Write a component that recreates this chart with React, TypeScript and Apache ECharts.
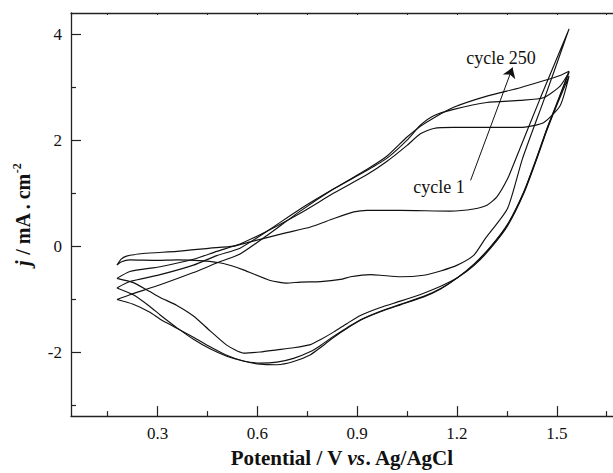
import React, { useEffect, useRef } from "react";
import * as echarts from "echarts";

const xMajorTicks = [0.3, 0.6, 0.9, 1.2, 1.5];
const xMinorTicks = [0.15, 0.45, 0.75, 1.05, 1.35, 1.65];
const xTopTicks = [0.15, 0.3, 0.45, 0.6, 0.75, 0.9, 1.05, 1.2, 1.35, 1.5, 1.65];
const yMajorTicks = [-2, 0, 2, 4];
const yMinorTicks = [-3, -1, 1, 3];

// cycle 1 (full loop: anodic then cathodic)
const cycle1Potential = [
  0.178, 0.19, 0.207, 0.257, 0.358, 0.458, 0.528, 0.579, 0.679, 0.76, 0.83, 0.89, 0.93, 1.03, 1.18, 1.25,
  1.29, 1.32, 1.352, 1.377, 1.449, 1.537, 1.462, 1.397, 1.352, 1.285, 1.251, 1.201, 1.151, 1.1, 1.03, 0.97,
  0.94, 0.88, 0.85, 0.79, 0.729, 0.689, 0.639, 0.558, 0.498, 0.438, 0.358, 0.298, 0.217, 0.19, 0.178,
];
const cycle1Current = [
  -0.36, -0.25, -0.19, -0.14, -0.1, -0.04, 0.0, 0.08, 0.24, 0.36, 0.52, 0.645, 0.675, 0.675, 0.66, 0.7,
  0.77, 0.93, 1.27, 1.65, 2.77, 4.1, 2.77, 1.65, 0.71, 0.14, -0.17, -0.36, -0.47, -0.55, -0.58, -0.55,
  -0.54, -0.58, -0.63, -0.67, -0.68, -0.7, -0.65, -0.45, -0.33, -0.28, -0.26, -0.27, -0.26, -0.3, -0.36,
];

// later cycles, anodic sweep
const anodicPotential = [
  0.178, 0.217, 0.308, 0.408, 0.478, 0.548, 0.629, 0.729, 0.83, 0.93, 0.99, 1.05, 1.09, 1.13, 1.19, 1.29,
  1.39, 1.46, 1.51, 1.537,
];
const cycleBAnodic = [
  -0.61, -0.48, -0.39, -0.25, -0.1, 0.04, 0.28, 0.62, 1.0, 1.35, 1.6, 1.9, 2.12, 2.22, 2.24, 2.24, 2.24, 2.33,
  2.65, 3.21,
];
const cycleCAnodic = [
  -0.79, -0.67, -0.54, -0.36, -0.18, -0.04, 0.28, 0.7, 1.08, 1.43, 1.66, 2.0, 2.28, 2.46, 2.58, 2.71, 2.75, 2.8,
  3.02, 3.28,
];
const cycleDAnodic = [
  -1.01, -0.92, -0.73, -0.5, -0.32, -0.15, 0.2, 0.66, 1.08, 1.45, 1.7, 2.06, 2.26, 2.42, 2.62, 2.83, 2.99, 3.12,
  3.22, 3.3,
];

// later cycles, cathodic sweep
const cathodicPotential = [
  1.5, 1.47, 1.442, 1.402, 1.352, 1.3, 1.251, 1.201, 1.151, 1.1, 1.03, 0.97, 0.91, 0.87, 0.83, 0.789, 0.76,
  0.709, 0.659, 0.609, 0.558, 0.508, 0.458, 0.408, 0.358, 0.308, 0.277, 0.227, 0.178,
];
const cycleBCathodic = [
  2.66, 2.18, 1.68, 1.01, 0.38, -0.05, -0.37, -0.6, -0.76, -0.89, -1.04, -1.16, -1.31, -1.46, -1.62, -1.77,
  -1.86, -1.92, -1.96, -2.0, -2.02, -1.87, -1.6, -1.32, -1.12, -0.97, -0.86, -0.69, -0.61,
];
const cycleCCathodic = [
  2.68, 2.2, 1.7, 1.03, 0.4, -0.03, -0.35, -0.6, -0.8, -0.95, -1.1, -1.23, -1.39, -1.54, -1.7, -1.88, -1.99,
  -2.12, -2.19, -2.21, -2.17, -2.08, -1.94, -1.76, -1.54, -1.3, -1.14, -0.92, -0.79,
];
const cycleDCathodic = [
  2.69, 2.21, 1.71, 1.04, 0.41, -0.02, -0.34, -0.6, -0.81, -0.96, -1.11, -1.24, -1.4, -1.55, -1.72, -1.92,
  -2.05, -2.18, -2.24, -2.23, -2.17, -2.06, -1.9, -1.72, -1.55, -1.38, -1.25, -1.1, -1.01,
];

const arrowStart = [1.241, 1.24];
const arrowEnd = [1.367, 3.37];
const labelFirst = "cycle 1";
const labelLast = "cycle 250";

const zip = (xs: number[], ys: number[]) => xs.map((x, i) => [x, ys[i]]);

const FONT = "Liberation Serif";
const INK = "#111";

export default function App() {
  const ref = useRef<HTMLDivElement>(null);
  useEffect(() => {
    if (!ref.current) return;
    const chart = echarts.init(ref.current, null, { renderer: "svg" });
    const xMin = 0.04;
    const xMax = 1.669;
    const yMin = -3.21;
    const yMax = 4.4;
    const axisLine = { show: true, onZero: false, lineStyle: { color: "#222", width: 1.3 } };
    const loops = [
      zip(cycle1Potential, cycle1Current),
      zip(anodicPotential, cycleBAnodic).concat(zip(cathodicPotential, cycleBCathodic)),
      zip(anodicPotential, cycleCAnodic).concat(zip(cathodicPotential, cycleCCathodic)),
      zip(anodicPotential, cycleDAnodic).concat(zip(cathodicPotential, cycleDCathodic)),
    ];
    const series: any[] = loops.map((d) => ({
      type: "line",
      data: d,
      showSymbol: false,
      smooth: 0.2,
      lineStyle: { color: INK, width: 1.15 },
      silent: true,
    }));
    series.push({
      type: "line",
      data: [],
      silent: true,
      markLine: {
        silent: true,
        symbol: ["none", "arrow"],
        symbolSize: 10,
        label: { show: false },
        lineStyle: { color: INK, width: 1, type: "solid" },
        data: [[{ coord: arrowStart }, { coord: arrowEnd }]],
      },
    });
    chart.setOption({
      animation: false,
      textStyle: { fontFamily: FONT },
      grid: { left: 71, right: 0, top: 13, bottom: 54 },
      xAxis: [
        {
          type: "value",
          position: "bottom",
          min: xMin,
          max: xMax,
          axisLine,
          splitLine: { show: false },
          axisTick: { show: true, inside: true, length: 10, customValues: xMajorTicks, lineStyle: { color: "#222", width: 1.2 } },
          axisLabel: {
            customValues: xMajorTicks,
            formatter: (v: number) => v.toFixed(1),
            color: INK,
            fontFamily: FONT,
            fontSize: 17,
            margin: 9,
          },
          name: "{b|Potential / V }{bi|vs}{b|. Ag/AgCl}",
          nameLocation: "middle",
          nameGap: 28,
          nameTextStyle: {
            fontFamily: FONT,
            rich: {
              b: { fontFamily: FONT, fontSize: 21, fontWeight: "bold", color: INK },
              bi: { fontFamily: FONT, fontSize: 21, fontWeight: "bold", fontStyle: "italic", color: INK },
            },
          },
        },
        {
          type: "value",
          position: "bottom",
          min: xMin,
          max: xMax,
          axisLine: { show: false, onZero: false },
          splitLine: { show: false },
          axisLabel: { show: false },
          axisTick: { show: true, inside: true, length: 5, customValues: xMinorTicks, lineStyle: { color: "#222", width: 1.2 } },
        },
        {
          type: "value",
          position: "top",
          min: xMin,
          max: xMax,
          axisLine,
          splitLine: { show: false },
          axisLabel: { show: false },
          axisTick: { show: true, inside: true, length: 2, customValues: xTopTicks, lineStyle: { color: "#222", width: 1 } },
        },
      ],
      yAxis: [
        {
          type: "value",
          position: "left",
          min: yMin,
          max: yMax,
          axisLine,
          splitLine: { show: false },
          axisTick: { show: true, inside: true, length: 10, customValues: yMajorTicks, lineStyle: { color: "#222", width: 1.2 } },
          axisLabel: {
            customValues: yMajorTicks,
            formatter: (v: number) => String(v),
            color: INK,
            fontFamily: FONT,
            fontSize: 17,
            margin: 9,
          },
          name: "{i|j}{b| / mA . cm}{s|-2}",
          nameLocation: "middle",
          nameGap: 36,
          nameTextStyle: {
            fontFamily: FONT,
            rich: {
              i: { fontFamily: FONT, fontSize: 20, fontWeight: "bold", fontStyle: "italic", color: INK },
              b: { fontFamily: FONT, fontSize: 20, fontWeight: "bold", color: INK },
              s: { fontFamily: FONT, fontSize: 12, fontWeight: "bold", color: INK, padding: [0, 0, 12, 0] },
            },
          },
        },
        {
          type: "value",
          position: "left",
          min: yMin,
          max: yMax,
          axisLine: { show: false, onZero: false },
          splitLine: { show: false },
          axisLabel: { show: false },
          axisTick: { show: true, inside: true, length: 5, customValues: yMinorTicks, lineStyle: { color: "#222", width: 1.2 } },
        },
      ],
      series,
      graphic: [
        {
          type: "text",
          x: 501,
          y: 58,
          silent: true,
          style: { text: labelLast, fontFamily: FONT, fontSize: 18, fill: INK, align: "center", verticalAlign: "middle" },
        },
        {
          type: "text",
          x: 439,
          y: 187,
          silent: true,
          style: { text: labelFirst, fontFamily: FONT, fontSize: 18, fill: INK, align: "center", verticalAlign: "middle" },
        },
      ],
    });
    return () => chart.dispose();
  }, []);
  return (
    <div
      ref={ref}
      style={{ position: "fixed", left: 0, top: 0, width: 613, height: 473, background: "#fff" }}
    />
  );
}
